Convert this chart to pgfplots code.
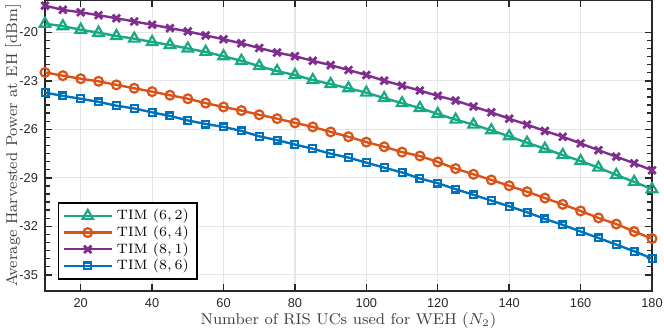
\documentclass[border=0pt]{standalone}
\usepackage{fontspec}
\setsansfont{Liberation Sans}
\usepackage{pgfplots}
\pgfplotsset{compat=1.18}

\definecolor{cgreen}{RGB}{24,168,132}
\definecolor{corange}{RGB}{217,83,25}
\definecolor{cpurple}{RGB}{126,47,142}
\definecolor{cblue}{RGB}{0,114,189}
\definecolor{axgray}{RGB}{40,40,40}

% x, TIM(6,2), TIM(6,4), TIM(8,1), TIM(8,6)
\pgfplotstableread{
x    g       o       p       b
10  -19.47  -22.48  -18.35  -23.73
15  -19.62  -22.68  -18.61  -23.93
20  -19.84  -22.87  -18.76  -24.11
25  -20.02  -23.03  -18.94  -24.30
30  -20.23  -23.25  -19.13  -24.54
35  -20.39  -23.46  -19.33  -24.71
40  -20.60  -23.67  -19.53  -24.95
45  -20.78  -23.89  -19.74  -25.17
50  -21.00  -24.11  -19.94  -25.45
55  -21.21  -24.38  -20.19  -25.67
60  -21.48  -24.62  -20.43  -25.85
65  -21.76  -24.84  -20.68  -26.10
70  -22.09  -25.10  -20.97  -26.43
75  -22.40  -25.34  -21.25  -26.67
80  -22.64  -25.60  -21.48  -26.94
85  -22.95  -25.85  -21.76  -27.20
90  -23.20  -26.16  -22.03  -27.51
95  -23.46  -26.46  -22.33  -27.75
100 -23.73  -26.79  -22.64  -28.06
105 -24.07  -27.08  -22.99  -28.37
110 -24.38  -27.41  -23.30  -28.67
115 -24.68  -27.65  -23.60  -29.04
120 -25.05  -28.02  -23.93  -29.33
125 -25.40  -28.43  -24.22  -29.70
130 -25.71  -28.78  -24.59  -30.05
135 -26.06  -29.13  -24.95  -30.41
140 -26.43  -29.49  -25.34  -30.76
145 -26.83  -29.86  -25.71  -31.13
150 -27.20  -30.25  -26.10  -31.54
155 -27.59  -30.64  -26.46  -31.91
160 -27.96  -31.05  -26.87  -32.32
165 -28.37  -31.48  -27.29  -32.72
170 -28.82  -31.86  -27.69  -33.13
175 -29.25  -32.32  -28.10  -33.54
180 -29.70  -32.76  -28.53  -33.99
}\datatab

\begin{document}
\begin{tikzpicture}
  \begin{axis}[
    name=main,
    scale only axis,
    width=303.5pt, height=145.5pt,
    xmin=10, xmax=180, ymin=-36, ymax=-18,
    xtick={20,40,...,180},
    ytick={-35,-32,-29,-26,-23,-20},
    minor y tick num=5,
    tick align=inside,
    major tick length=3.5pt, minor tick length=2.3pt,
    axis line style={axgray, line width=0.7pt},
    every tick/.style={axgray, line width=0.7pt},
    grid=major,
    grid style={black!10, line width=0.6pt},
    clip=false,
    /pgf/number format/assume math mode=true,
    tick label style={font=\sffamily\fontsize{6.4}{7}\selectfont, text=black!85},
    xlabel={Number of RIS UCs used for WEH ($N_2$)},
    ylabel={Average Harvested Power at EH [dBm]},
    label style={font=\fontsize{7.8}{9}\selectfont, text=black!75},
    xlabel style={at={(axis description cs:0.5,-0.1134)}, anchor=base},
    ylabel style={at={(axis description cs:-0.046,0.5)}, anchor=base},
    legend cell align=left,
    legend style={at={(rel axis cs:0.021,0.038)}, anchor=south west,
      draw=black, line width=0.8pt, fill=white,
      font=\fontsize{6.8}{8}\selectfont, row sep=-2.4pt,
      inner xsep=2pt, inner ysep=1.2pt},
    legend image code/.code={%
      \draw[mark repeat=2,mark phase=2] plot coordinates {(0pt,0pt) (12pt,0pt) (24pt,0pt)};},
    every axis plot/.append style={line width=1.2pt},
  ]
    \addplot[cgreen, mark=triangle, mark size=3pt, mark options={solid, line width=1.1pt}]
      table[x=x, y=g] {\datatab};
    \addlegendentry{TIM $(6,2)$}
    \addplot[corange, mark=o, mark size=2.2pt, mark options={solid, line width=1.1pt}]
      table[x=x, y=o] {\datatab};
    \addlegendentry{TIM $(6,4)$}
    \addplot[cpurple, mark=x, mark size=2.6pt, mark options={solid, line width=1.4pt}]
      table[x=x, y=p] {\datatab};
    \addlegendentry{TIM $(8,1)$}
    \addplot[cblue, mark=square, mark size=1.7pt, mark options={solid, line width=1.1pt}]
      table[x=x, y=b] {\datatab};
    \addlegendentry{TIM $(8,6)$}
  \end{axis}
  \pgfresetboundingbox
  \path ([shift={(-22.5pt,-20.5pt)}]main.south west) rectangle ([shift={(6pt,0pt)}]main.north east);
\end{tikzpicture}
\end{document}
